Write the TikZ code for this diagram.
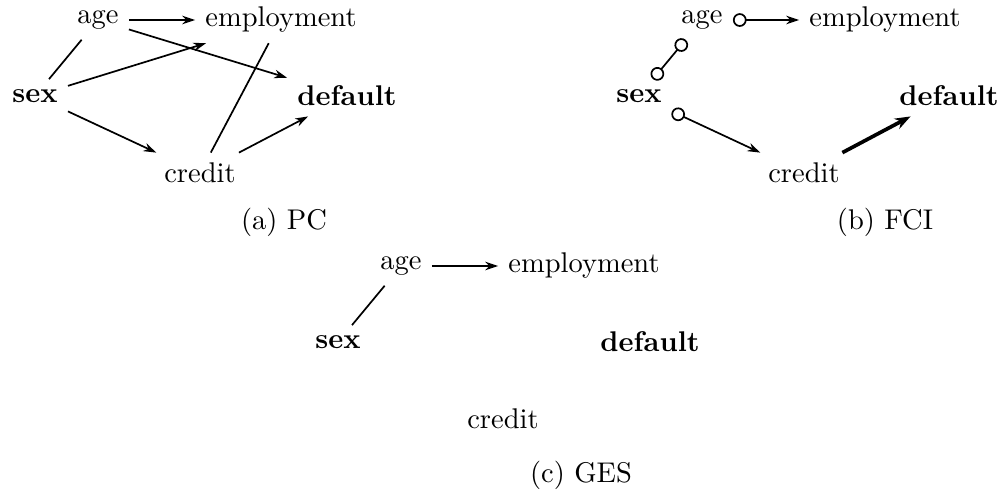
\documentclass[tikz,border=0pt]{standalone}
\usepackage{tikz}
\usetikzlibrary{arrows.meta, positioning, calc}

\tikzset{
    key/.style={font=\bfseries},
    co/.style={arrows={Circle[open,length=4.8pt]}-{Stealth[length=4.5pt,width=3pt]}},
    cc/.style={arrows={Circle[open,length=4.8pt]}-{Circle[open,length=4.8pt]}},
    strong/.style={line width=1.3pt, arrows=-{Stealth[length=5.5pt,width=4pt]}}
}

\begin{document}
\begin{tikzpicture}[x=0.351pt, y=-0.351pt, >={Stealth[length=4.5pt,width=3pt]}, semithick]
    \useasboundingbox (0,0) rectangle (1003,490);

    % (a) PC
    \begin{scope}
        \node (a-age) at (98,20) {age};
        \node (a-emp) at (281,20) {employment};
        \node (a-sex) at (35,96) [key] {sex};
        \node (a-def) at (347,96) [key] {default};
        \node (a-cred) at (200,173) {credit};
        \node (a-cap) at (284,222) {(a) PC};

        \draw (a-age) -- (a-sex);
        \draw[->] (a-age) -- (a-emp);
        \draw[->] (a-age) -- (a-def);
        \draw[->] (a-sex) -- (a-emp);
        \draw (a-emp) -- (a-cred);
        \draw[->] (a-sex) -- (a-cred);
        \draw[->] (a-cred) -- (a-def);
    \end{scope}

    % (b) FCI
    \begin{scope}[shift={(604,0)}]
        \node (b-age) at (98,20) {age};
        \node (b-emp) at (281,20) {employment};
        \node (b-sex) at (35,96) [key] {sex};
        \node (b-def) at (345,96) [key] {default};
        \node (b-cred) at (200,173) {credit};
        \node (b-cap) at (281,222) {(b) FCI};

        \draw[cc] (b-sex) -- (b-age);
        \draw[co] (b-age) -- (b-emp);
        \draw[co] (b-sex) -- (b-cred);
        \draw[strong] (b-cred) -- (b-def);
    \end{scope}

    % (c) GES
    \begin{scope}[shift={(303,246)}]
        \node (c-age) at (98,20) {age};
        \node (c-emp) at (281,20) {employment};
        \node (c-sex) at (35,96) [key] {sex};
        \node (c-def) at (347,96) [key] {default};
        \node (c-cred) at (200,173) {credit};
        \node (c-cap) at (278,229) {(c) GES};

        \draw (c-age) -- (c-sex);
        \draw[->] (c-age) -- (c-emp);
    \end{scope}

\end{tikzpicture}
\end{document}
